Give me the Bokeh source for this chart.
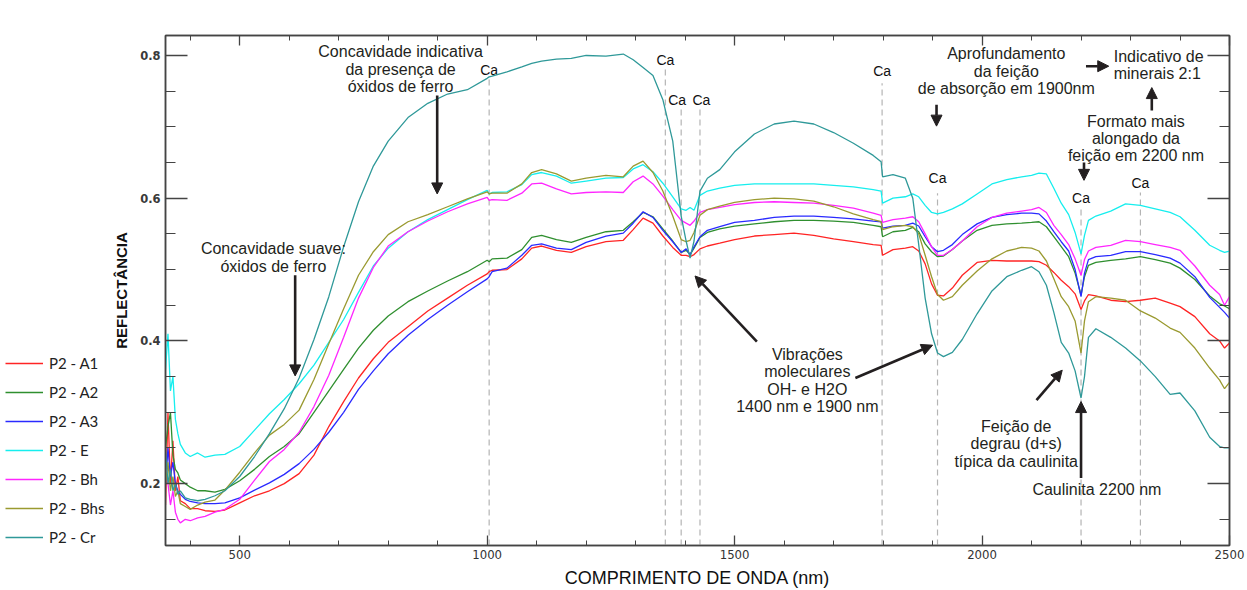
from bokeh.plotting import figure
from bokeh.layouts import row
from bokeh.models import (Range1d, LinearAxis, FixedTicker, Legend, LegendItem,
                          Label, Arrow, NormalHead, ColumnDataSource)
from bokeh.embed import file_html
from bokeh.resources import INLINE
from bokeh.core.properties import value

# ---------------- data ----------------
wavelength_nm = [
    350, 355, 360, 365, 370, 375, 380, 390, 400, 415,
    430, 450, 470, 500, 530, 560, 590, 620, 650, 680,
    710, 740, 770, 800, 840, 880, 920, 960, 1000, 1004,
    1010, 1040, 1070, 1090, 1110, 1140, 1170, 1200, 1240, 1275,
    1295, 1315, 1335, 1355, 1375, 1392, 1402, 1410, 1418, 1430,
    1445, 1470, 1500, 1540, 1580, 1620, 1660, 1700, 1740, 1780,
    1796, 1799, 1820, 1845, 1860, 1872, 1885, 1898, 1910, 1922,
    1940, 1960, 1990, 2020, 2050, 2080, 2100, 2115, 2130, 2145,
    2160, 2175, 2188, 2200, 2207, 2215, 2230, 2260, 2290, 2320,
    2350, 2380, 2400, 2430, 2460, 2480, 2490, 2500]

p2_a1 = [
    0.17, 0.30, 0.20, 0.26, 0.19, 0.21, 0.176, 0.172, 0.165, 0.165,
    0.162, 0.161, 0.163, 0.173, 0.183, 0.19, 0.2, 0.214, 0.24, 0.28,
    0.315, 0.348, 0.375, 0.398, 0.42, 0.442, 0.46, 0.478, 0.494, 0.497,
    0.499, 0.5, 0.515, 0.53, 0.533, 0.527, 0.524, 0.532, 0.539, 0.541,
    0.556, 0.572, 0.565, 0.547, 0.531, 0.52, 0.52, 0.518, 0.521, 0.529,
    0.533, 0.537, 0.542, 0.547, 0.549, 0.551, 0.548, 0.543, 0.539, 0.535,
    0.534, 0.52, 0.528, 0.53, 0.532, 0.526, 0.508, 0.48, 0.464, 0.463,
    0.474, 0.492, 0.51, 0.513, 0.512, 0.512, 0.512, 0.511, 0.506, 0.496,
    0.485, 0.476, 0.466, 0.444, 0.456, 0.465, 0.463, 0.457, 0.455, 0.457,
    0.46, 0.453, 0.448, 0.434, 0.41, 0.4, 0.39, 0.397]

p2_a2 = [
    0.25, 0.28, 0.30, 0.24, 0.22, 0.215, 0.205, 0.2, 0.195, 0.19,
    0.19, 0.188, 0.192, 0.204, 0.22, 0.238, 0.252, 0.27, 0.3, 0.33,
    0.36, 0.39, 0.415, 0.435, 0.455, 0.47, 0.484, 0.497, 0.513, 0.511,
    0.515, 0.516, 0.528, 0.545, 0.548, 0.542, 0.538, 0.545, 0.553, 0.555,
    0.567, 0.58, 0.574, 0.557, 0.54, 0.524, 0.527, 0.521, 0.53, 0.545,
    0.552, 0.557, 0.561, 0.564, 0.567, 0.569, 0.569, 0.568, 0.566, 0.562,
    0.56, 0.546, 0.553, 0.555, 0.559, 0.553, 0.536, 0.525, 0.518, 0.519,
    0.528, 0.54, 0.555, 0.562, 0.564, 0.565, 0.566, 0.567, 0.56, 0.546,
    0.532, 0.518, 0.495, 0.464, 0.49, 0.506, 0.51, 0.513, 0.515, 0.518,
    0.514, 0.509, 0.502, 0.486, 0.463, 0.452, 0.449, 0.445]

p2_a3 = [
    0.20, 0.25, 0.21, 0.23, 0.20, 0.19, 0.185, 0.178, 0.175, 0.173,
    0.172, 0.172, 0.173, 0.18, 0.191, 0.201, 0.213, 0.228, 0.248, 0.272,
    0.3, 0.332, 0.358, 0.382, 0.408, 0.43, 0.45, 0.469, 0.487, 0.49,
    0.497, 0.502, 0.52, 0.534, 0.536, 0.53, 0.528, 0.538, 0.547, 0.551,
    0.565, 0.581, 0.573, 0.555, 0.539, 0.524, 0.529, 0.521, 0.532, 0.546,
    0.555, 0.56, 0.566, 0.569, 0.573, 0.575, 0.575, 0.573, 0.571, 0.568,
    0.567, 0.558, 0.561, 0.562, 0.565, 0.561, 0.546, 0.532, 0.525, 0.527,
    0.535, 0.549, 0.564, 0.573, 0.577, 0.579, 0.579, 0.578, 0.568, 0.553,
    0.539, 0.526, 0.5, 0.462, 0.495, 0.514, 0.518, 0.52, 0.525, 0.525,
    0.521, 0.516, 0.509, 0.49, 0.461, 0.447, 0.44, 0.432]

p2_e = [
    0.36, 0.41, 0.33, 0.35, 0.29, 0.27, 0.255, 0.243, 0.238, 0.243,
    0.237, 0.24, 0.241, 0.252, 0.275, 0.298, 0.318, 0.34, 0.366, 0.398,
    0.43, 0.468, 0.505, 0.53, 0.553, 0.57, 0.584, 0.598, 0.611, 0.606,
    0.608, 0.609, 0.619, 0.633, 0.636, 0.631, 0.621, 0.624, 0.628, 0.629,
    0.641, 0.647, 0.637, 0.621, 0.602, 0.585, 0.583, 0.587, 0.583, 0.604,
    0.61, 0.614, 0.618, 0.62, 0.62, 0.62, 0.62, 0.618, 0.616, 0.612,
    0.61, 0.593, 0.6, 0.602, 0.606, 0.602, 0.59, 0.58, 0.578, 0.58,
    0.585, 0.592, 0.606, 0.62, 0.626, 0.63, 0.632, 0.635, 0.634, 0.614,
    0.593, 0.577, 0.552, 0.522, 0.548, 0.569, 0.575, 0.582, 0.592, 0.59,
    0.585, 0.58, 0.574, 0.555, 0.534, 0.527, 0.524, 0.526]

p2_bh = [
    0.23, 0.20, 0.17, 0.19, 0.16, 0.15, 0.145, 0.15, 0.148, 0.152,
    0.154, 0.16, 0.164, 0.178, 0.205, 0.231, 0.248, 0.272, 0.308, 0.352,
    0.405, 0.46, 0.503, 0.533, 0.553, 0.568, 0.581, 0.592, 0.601, 0.597,
    0.598, 0.597, 0.607, 0.62, 0.621, 0.613, 0.606, 0.608, 0.609, 0.608,
    0.623, 0.631, 0.62, 0.603, 0.584, 0.569, 0.565, 0.562, 0.568, 0.58,
    0.584, 0.587, 0.591, 0.594, 0.595, 0.594, 0.593, 0.59, 0.586, 0.579,
    0.576, 0.566, 0.57, 0.572, 0.574, 0.567, 0.55, 0.532, 0.52, 0.52,
    0.528, 0.54, 0.56, 0.573, 0.579, 0.582, 0.584, 0.587, 0.58, 0.562,
    0.549, 0.535, 0.515, 0.492, 0.514, 0.526, 0.531, 0.534, 0.541, 0.539,
    0.535, 0.531, 0.527, 0.505, 0.478, 0.465, 0.45, 0.462]

p2_bhs = [
    0.20, 0.23, 0.19, 0.21, 0.182, 0.19, 0.172, 0.168, 0.164, 0.17,
    0.174, 0.177, 0.191, 0.216, 0.243, 0.268, 0.283, 0.303, 0.346, 0.396,
    0.445, 0.492, 0.525, 0.549, 0.567, 0.577, 0.588, 0.599, 0.609, 0.606,
    0.607, 0.607, 0.62, 0.636, 0.64, 0.634, 0.624, 0.628, 0.632, 0.63,
    0.645, 0.652, 0.636, 0.61, 0.575, 0.542, 0.539, 0.541, 0.552, 0.576,
    0.584, 0.589, 0.594, 0.598, 0.6, 0.599, 0.596, 0.588, 0.578, 0.57,
    0.567, 0.556, 0.56, 0.562, 0.56, 0.55, 0.52, 0.49, 0.465, 0.457,
    0.462, 0.478, 0.498, 0.515, 0.526, 0.531, 0.53, 0.526, 0.512, 0.487,
    0.462, 0.448, 0.428, 0.383, 0.428, 0.455, 0.462, 0.46, 0.457, 0.442,
    0.432, 0.418, 0.412, 0.39, 0.362, 0.345, 0.333, 0.342]

p2_cr = [
    0.25, 0.20, 0.22, 0.19, 0.20, 0.185, 0.19, 0.18, 0.178, 0.176,
    0.178, 0.183, 0.19, 0.21, 0.238, 0.27, 0.305, 0.348, 0.402, 0.462,
    0.532, 0.595, 0.645, 0.68, 0.713, 0.733, 0.746, 0.752, 0.768, 0.77,
    0.771, 0.777, 0.784, 0.789, 0.792, 0.795, 0.796, 0.8, 0.799, 0.802,
    0.794, 0.783, 0.772, 0.738, 0.68, 0.575, 0.54, 0.516, 0.54, 0.61,
    0.628, 0.64, 0.665, 0.69, 0.704, 0.708, 0.704, 0.692, 0.677, 0.66,
    0.651, 0.63, 0.633, 0.628, 0.6, 0.535, 0.46, 0.41, 0.383, 0.378,
    0.384, 0.402, 0.438, 0.47, 0.49, 0.499, 0.504, 0.497, 0.478, 0.44,
    0.398, 0.383, 0.358, 0.32, 0.35, 0.405, 0.417, 0.405, 0.39, 0.372,
    0.35, 0.325, 0.327, 0.302, 0.265, 0.252, 0.25, 0.25]

series_names = ["P2 - A1", "P2 - A2", "P2 - A3", "P2 - E", "P2 - Bh", "P2 - Bhs", "P2 - Cr"]
series_values = [p2_a1, p2_a2, p2_a3, p2_e, p2_bh, p2_bhs, p2_cr]
series_colors = ["#ff2424", "#2f8f2f", "#2a2aff", "#16eeee", "#ff26ff", "#9a9a30", "#2f9999"]

ca_wavelengths = [1004, 1360, 1392, 1430, 1798, 1910, 2200, 2320]
ca_line_top = [0.772, 0.786, 0.730, 0.730, 0.761, 0.607, 0.587, 0.608]
ca_label_x = [1004, 1360, 1384, 1433, 1798, 1910, 2200, 2320]
ca_label_y = [0.780, 0.793, 0.738, 0.738, 0.778, 0.629, 0.600, 0.621]

x_major = [500, 1000, 1500, 2000, 2500]
x_minor = list(range(400, 2500, 100))
y_major = [0.2, 0.4, 0.6, 0.8]
y_minor = [0.15, 0.25, 0.3, 0.35, 0.45, 0.5, 0.55, 0.65, 0.7, 0.75]

Y0, Y1 = 0.1133, 0.828
ink = "#231f20"
FONT = "Liberation Sans"
NARROW = "Liberation Sans Narrow, DejaVu Sans Condensed, Liberation Sans"
LEG_W = 110

# ---------------- legend panel (left) ----------------
lf = figure(width=LEG_W, height=590, output_backend="svg", toolbar_location=None,
            x_range=Range1d(0, 1), y_range=Range1d(0, 1),
            x_axis_type=None, y_axis_type=None, min_border=0,
            background_fill_color="white", border_fill_color="white")
lf.grid.visible = False
lf.outline_line_color = None
leg_items = []
for name, vals, col in zip(series_names, series_values, series_colors):
    # same spectra; the legend panel's ranges keep them out of view
    r = lf.line(wavelength_nm, vals, line_color=col, line_width=1.3)
    leg_items.append(LegendItem(label=name, renderers=[r]))
legend = Legend(items=leg_items, location=(5, -2), orientation="vertical",
                glyph_width=38, glyph_height=20, label_height=20, spacing=9,
                label_standoff=6, padding=0, margin=0,
                border_line_color=None, background_fill_alpha=0,
                label_text_font="Lato", label_text_font_size="15px",
                label_text_color="#222222")
lf.add_layout(legend)

# ---------------- main figure ----------------
p = figure(width=1247 - LEG_W, height=590, output_backend="svg", toolbar_location=None,
           x_range=Range1d(350, 2500), y_range=Range1d(Y0, Y1),
           min_border_left=164 - LEG_W, min_border_right=18, min_border_top=35,
           min_border_bottom=45, background_fill_color="white",
           border_fill_color="white")
p.grid.visible = False
p.outline_line_color = "#444444"
p.outline_line_width = 1.5

p.xaxis.axis_label = "COMPRIMENTO DE ONDA (nm)"
p.yaxis.axis_label = "REFLECTÂNCIA"

top_axis = LinearAxis()
right_axis = LinearAxis()
p.add_layout(top_axis, "above")
p.add_layout(right_axis, "right")

for ax in p.xaxis:
    ax.ticker = FixedTicker(ticks=x_major, minor_ticks=x_minor)
    ax.major_tick_in = 10
    ax.major_tick_out = 0
    ax.minor_tick_in = 5
    ax.minor_tick_out = 0
for ax in p.yaxis:
    ax.ticker = FixedTicker(ticks=y_major, minor_ticks=y_minor)
    ax.major_tick_in = 22
    ax.major_tick_out = 0
    ax.minor_tick_in = 10
    ax.minor_tick_out = 0
for ax in list(p.xaxis) + list(p.yaxis):
    ax.axis_line_color = "#444444"
    ax.axis_line_width = 1.5
    ax.major_tick_line_color = "#444444"
    ax.major_tick_line_width = 1.3
    ax.minor_tick_line_color = "#444444"
    ax.minor_tick_line_width = 1.0

for ax in (top_axis, right_axis):
    ax.major_label_text_font_size = "0px"
    ax.major_label_text_color = None
    ax.major_label_standoff = 0

bottom = p.below[0]
bottom.major_label_text_font = NARROW
bottom.major_label_text_font_size = "13px"
bottom.major_label_text_color = "#333333"
bottom.major_label_standoff = 4
bottom.axis_label_text_font = FONT
bottom.axis_label_text_font_style = "normal"
bottom.axis_label_text_font_size = "18px"
bottom.axis_label_text_color = "#111111"
bottom.axis_label_standoff = 6

left = p.left[0]
left.major_label_text_font = "DejaVu Sans"
left.major_label_text_font_style = "bold"
left.major_label_text_font_size = "11.5px"
left.major_label_text_color = "#3a3a3a"
left.major_label_standoff = 5
left.axis_label_text_font = FONT
left.axis_label_text_font_style = "bold"
left.axis_label_text_font_size = "15px"
left.axis_label_text_color = "#111111"
left.axis_label_standoff = 7

# Ca reference lines
ca_src = ColumnDataSource(dict(x=ca_wavelengths, top=ca_line_top,
                               bottom=[Y0] * len(ca_wavelengths)))
p.segment(x0="x", y0="bottom", x1="x", y1="top", source=ca_src,
          line_color="#b4b4b4", line_width=1.2, line_dash="6 4")
ca_lab = ColumnDataSource(dict(x=ca_label_x, y=ca_label_y,
                               txt=["Ca"] * len(ca_label_x)))
p.text(x="x", y="y", text="txt", source=ca_lab, text_align="center",
       text_baseline="middle", text_font=value(FONT), text_font_size="14px",
       text_color="#111111")

# spectra
for name, vals, col in zip(series_names, series_values, series_colors):
    p.line(wavelength_nm, vals, line_color=col, line_width=1.3)

# title
p.add_layout(Label(x=1425, y=0.849, text="P2 - Espodossolo Humilúvico Órtico arênico",
                   text_align="center", text_baseline="middle", text_font=FONT,
                   text_font_size="16px", text_color="#111111"))


def note(x, y, text, align="center", size="16px"):
    p.add_layout(Label(x=x, y=y, text=text, text_align=align, text_baseline="top",
                       text_font=FONT, text_font_size=size, text_color=ink,
                       text_line_height=1.02))


def arrow(x0, y0, x1, y1, size=11):
    p.add_layout(Arrow(end=NormalHead(size=size, fill_color=ink, line_color=ink, line_width=1),
                       x_start=x0, y_start=y0, x_end=x1, y_end=y1,
                       line_width=2.6, line_color=ink))


note(825, 0.817, "Concavidade indicativa\nda presença de\nóxidos de ferro")
arrow(899, 0.744, 899, 0.606)
note(568, 0.541, "Concavidade suave:\nóxidos de ferro")
arrow(612, 0.492, 612, 0.351)
note(2049, 0.814, "Aprofundamento\nda feição\nde absorção em 1900nm")
arrow(1908, 0.731, 1908, 0.701)
note(2266, 0.811, "Indicativo de\nminerais 2:1", align="left")
arrow(2210, 0.785, 2256, 0.785)
arrow(2343, 0.723, 2343, 0.755)
note(2311, 0.720, "Formato mais\nalongado da\nfeição em 2200 nm")
arrow(2206, 0.650, 2206, 0.625)
note(1647, 0.393, "Vibrações\nmoleculares\nOH- e H2O\n1400 nm e 1900 nm")
arrow(1545, 0.399, 1420, 0.491)
arrow(1744, 0.348, 1900, 0.394)
note(2069, 0.292, "Feição de\ndegrau (d+s)\ntípica da caulinita")
arrow(2110, 0.317, 2162, 0.359)
note(2232, 0.204, "Caulinita 2200 nm")
arrow(2200, 0.208, 2200, 0.315)

layout = row(lf, p, spacing=0)
open("out.html", "w").write(file_html(layout, INLINE))
